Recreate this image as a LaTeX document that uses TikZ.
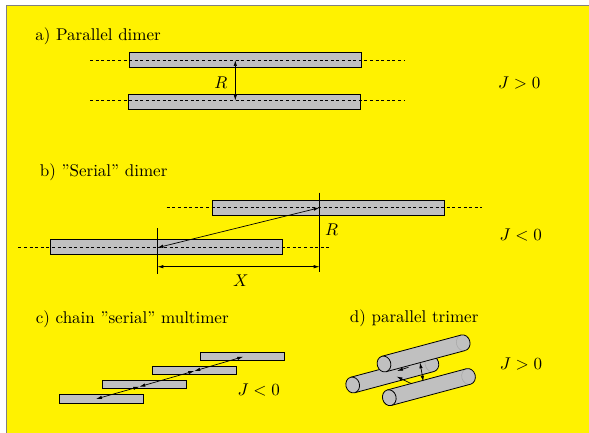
\documentclass[tikz,border=0pt]{standalone}
\usetikzlibrary{arrows.meta}
\definecolor{barfill}{RGB}{192,192,192}
\definecolor{framegray}{RGB}{128,128,128}
\begin{document}
\begin{tikzpicture}[x=1pt,y=-1pt,
  txt/.style={font=\normalsize, inner sep=0pt, scale=1.7, transform shape},
  bar/.style={rectangle, draw=black, line width=0.9pt, fill=barfill, inner sep=0pt,
    minimum width=232pt, minimum height=15pt},
  minibar/.style={rectangle, draw=black, line width=0.8pt, fill=barfill, inner sep=0pt,
    minimum width=84pt, minimum height=8.3pt},
  axisdash/.style={line width=0.7pt, dash pattern=on 3pt off 2.6pt},
  guide/.style={line width=0.9pt},
  both/.style={line width=0.7pt, {Latex[length=6pt,width=3.4pt]}-{Latex[length=6pt,width=3.4pt]}},
  one/.style={line width=0.7pt, -{Latex[length=6pt,width=3.4pt]}},
  rodline/.style={line width=0.8pt},
  pics/rod/.style={code={
    % far end cap
    \draw[rodline, fill=barfill] (82,0) ellipse[x radius=6.8pt, y radius=8pt];
    % body
    \fill[barfill] (0,-8) -- (82,-8) -- (82,8) -- (0,8) -- cycle;
    \begin{scope}
      \clip (74,-9) -- (82,-9) -- (82,9) -- (74,9) -- cycle;
      \draw[gray!70, line width=0.5pt] (82,0) ellipse[x radius=6.8pt, y radius=8pt];
    \end{scope}
    \draw[rodline] (0,-8) -- (82,-8) (0,8) -- (82,8);
    % near end cap
    \draw[rodline, fill=barfill] (0,0) ellipse[x radius=6.8pt, y radius=8pt];
  }},
]
\useasboundingbox (0,0) rectangle (589,433);
\fill[yellow] (6.7,5.7) rectangle (589,433);
\draw[framegray, line width=1.3pt] (6.7,433) -- (6.7,5.7) -- (589,5.7);

% ---------- a) parallel dimer ----------
\node[txt, anchor=base west] (ta) at (35,40.5) {a) Parallel dimer};
\node[bar] (a1) at (245.2,60) {};
\node[bar] (a2) at (244.5,101.5) {};
\coordinate (a1l) at (90,60);   \coordinate (a1r) at (404,60);
\coordinate (a2l) at (90,100.7); \coordinate (a2r) at (404,100.7);
\draw[axisdash] (a1l) -- (a1r);
\draw[axisdash] (a2l) -- (a2r);
\coordinate (aR1) at (235.3,60);
\coordinate (aR2) at (235.3,100.7);
\draw[both] (aR1) -- (aR2);
\node[txt, anchor=base] (Ra) at (221,88.3) {$R$};
\node[txt, anchor=base] (Ja) at (519.3,88.3) {$J>0$};

% ---------- b) serial dimer ----------
\node[txt, anchor=base west] (tb) at (39.5,176.7) {b) ”Serial” dimer};
\node[bar] (b1) at (328.3,208.2) {};
\node[bar] (b2) at (166.2,246.8) {};
\coordinate (b1l) at (166.7,207.7); \coordinate (b1r) at (481.7,207.7);
\coordinate (b2l) at (18.3,247.7);  \coordinate (b2r) at (331.7,247.7);
\draw[axisdash] (b1l) -- (b1r);
\draw[axisdash] (b2l) -- (b2r);
\coordinate (vLt) at (157.3,228.3); \coordinate (vLb) at (157.3,274);
\coordinate (vRt) at (319.7,192.7); \coordinate (vRb) at (319.7,272.3);
\draw[guide] (vLt) -- (vLb);
\draw[guide] (vRt) -- (vRb);
\coordinate (bR1) at (157.3,247.7);
\coordinate (bR2) at (319.7,207.7);
\draw[both] (bR1) -- (bR2);
\coordinate (bX1) at (157.3,266.7);
\coordinate (bX2) at (319.7,266.7);
\draw[both] (bX1) -- (bX2);
\node[txt, anchor=base] (Rb) at (331.7,235) {$R$};
\node[txt, anchor=base] (Xb) at (240.8,286.7) {$X$};
\node[txt, anchor=base] (Jb) at (520.7,240.7) {$J<0$};

% ---------- c) chain serial multimer ----------
\node[txt, anchor=base west] (tc) at (35.5,323) {c) chain ”serial” multimer};
\node[minibar] (c1) at (242,356.5) {};
\node[minibar] (c2) at (194.2,370.3) {};
\node[minibar] (c3) at (144.5,384.3) {};
\node[minibar] (c4) at (101.3,398.8) {};
\coordinate (p1) at (243.3,356.7);
\coordinate (p2) at (194.3,371);
\coordinate (p3) at (139.3,386.7);
\coordinate (p4) at (96,399);
\draw[both] (p1) -- (p2);
\draw[both] (p2) -- (p3);
\draw[both] (p3) -- (p4);
\node[txt, anchor=base] (Jc) at (258.7,395) {$J<0$};

% ---------- d) parallel trimer ----------
\node[txt, anchor=base west] (td) at (349.5,322) {d) parallel trimer};
\pic[rotate=15] at (352.7,385) {rod};
\pic[rotate=15] at (384,364) {rod};
\pic[rotate=15] at (389.3,397.7) {rod};
\coordinate (dv1) at (420,362.3);
\coordinate (dv2) at (423.3,381.7);
\draw[both] (dv1) -- (dv2);
\coordinate (ds1) at (408.5,367.3);
\coordinate (ds2) at (397,371);
\draw[one] (ds1) -- (ds2);
\coordinate (dm1) at (411,383.5);
\coordinate (dm2) at (396.5,376.5);
\draw[one] (dm1) -- (dm2);
\node[txt, anchor=base] (Jd) at (521,369) {$J>0$};
\end{tikzpicture}
\end{document}
